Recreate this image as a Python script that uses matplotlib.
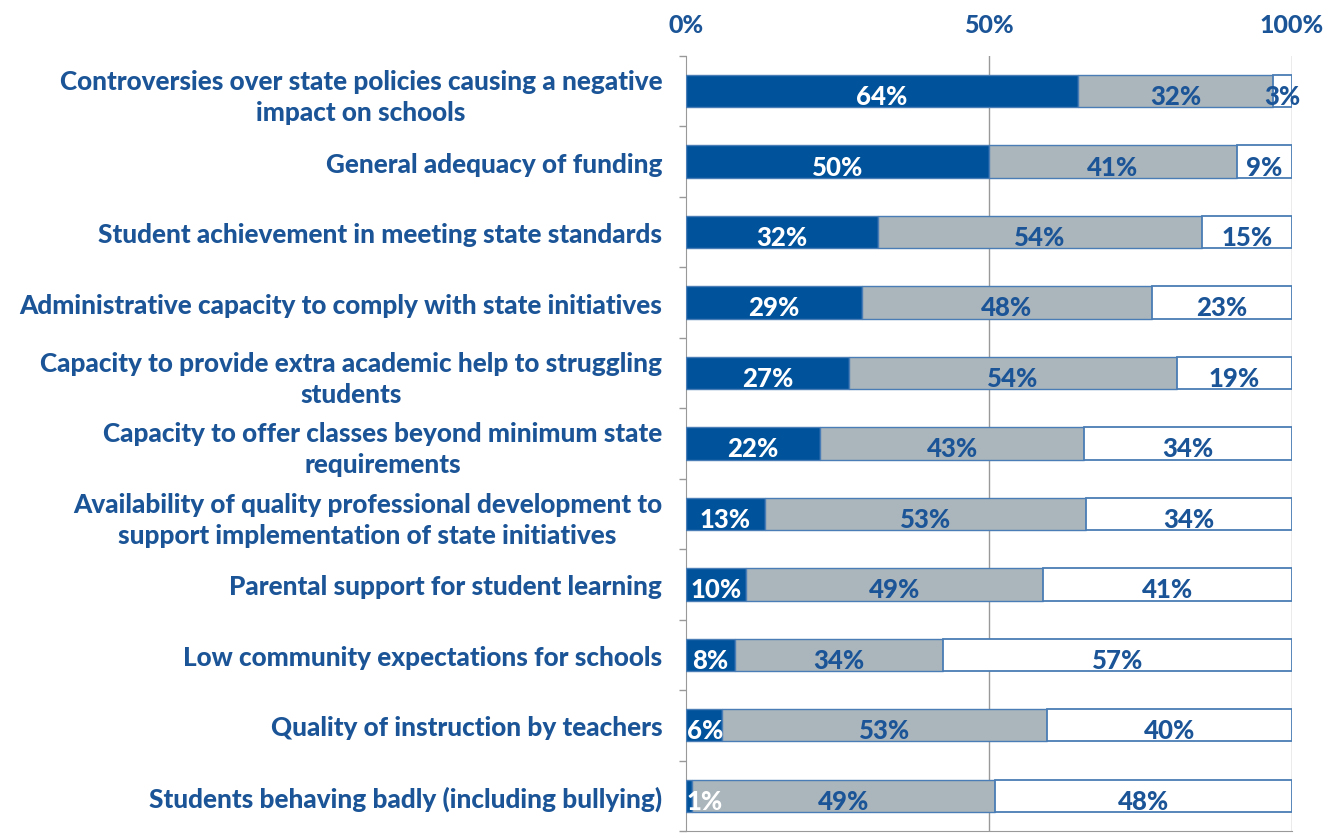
import matplotlib
matplotlib.use("Agg")
import matplotlib.pyplot as plt
import numpy as np

categories = [
    "Controversies over state policies causing a negative\nimpact on schools",
    "General adequacy of funding",
    "Student achievement in meeting state standards",
    "Administrative capacity to comply with state initiatives",
    "Capacity to provide extra academic help to struggling\nstudents",
    "Capacity to offer classes beyond minimum state\nrequirements",
    "Availability of quality professional development to\nsupport implementation of state initiatives",
    "Parental support for student learning",
    "Low community expectations for schools",
    "Quality of instruction by teachers",
    "Students behaving badly (including bullying)",
]
major = [64, 50, 32, 29, 27, 22, 13, 10, 8, 6, 1]
minor = [32, 41, 54, 48, 54, 43, 53, 49, 34, 53, 49]
notprob = [3, 9, 15, 23, 19, 34, 34, 41, 57, 40, 48]
xticks = [0, 50, 100]
xticklabels = ["0%", "50%", "100%"]

plt.rcParams['font.family'] = ['Lato', 'DejaVu Sans']
TXT = '#1B5597'
DARK = '#00529B'
GREY = '#AAB5BC'
EDGE = '#4A7DB5'
W = 'black'

fig = plt.figure(figsize=(13.29, 8.37), dpi=100)
ax = fig.add_axes([0.516, 0.006, 0.456, 0.926])

n = len(categories)
y = np.arange(n)
tot = np.array(major) + np.array(minor) + np.array(notprob)
a = np.array(major) / tot * 100
b = np.array(minor) / tot * 100
c = np.array(notprob) / tot * 100
h = 0.46
ax.barh(y, a, height=h, color=DARK, edgecolor=EDGE, linewidth=1, zorder=3)
ax.barh(y, b, left=a, height=h, color=GREY, edgecolor=EDGE, linewidth=1, zorder=3)
ax.barh(y, c, left=a + b, height=h, color='white', edgecolor=EDGE, linewidth=1.3, zorder=3)

FS = 18.5
for i in range(n):
    if a[i] < 8:
        ax.text(0.2, y[i] + 0.07, f"{major[i]}%", ha='left', va='center',
                color='white', fontsize=FS, fontweight=W, zorder=4)
    else:
        ax.text(a[i] / 2, y[i] + 0.07, f"{major[i]}%", ha='center', va='center',
                color='white', fontsize=FS, fontweight=W, zorder=4)
    ax.text(a[i] + b[i] / 2, y[i] + 0.07, f"{minor[i]}%", ha='center', va='center',
            color=TXT, fontsize=FS, fontweight=W, zorder=4)
    ax.text(a[i] + b[i] + c[i] / 2, y[i] + 0.07, f"{notprob[i]}%", ha='center', va='center',
            color=TXT, fontsize=FS, fontweight=W, zorder=4)

ax.set_xlim(0, 100)
ax.set_ylim(n - 0.5, -0.5)
ax.xaxis.tick_top()
ax.set_xticks(xticks)
ax.set_xticklabels(xticklabels, fontsize=18, fontweight=W, color=TXT)
ax.tick_params(axis='x', length=0, pad=14)
ax.set_yticks(y)
ax.set_yticklabels(categories, fontsize=18.8, fontweight=W, color=TXT,
                   multialignment='center', linespacing=1.35)
ax.tick_params(axis='y', which='major', length=0, pad=17)
ax.set_yticks(np.arange(n + 1) - 0.5, minor=True)
ax.tick_params(axis='y', which='minor', length=5, color='#999999', width=1)

for xv in [50, 100]:
    ax.axvline(xv, color='#999999', linewidth=1, zorder=1)
for s in ['top', 'right']:
    ax.spines[s].set_visible(False)
ax.spines['left'].set_color('#999999')
ax.spines['bottom'].set_color('#999999')

fig.savefig('out.png', dpi=100)
